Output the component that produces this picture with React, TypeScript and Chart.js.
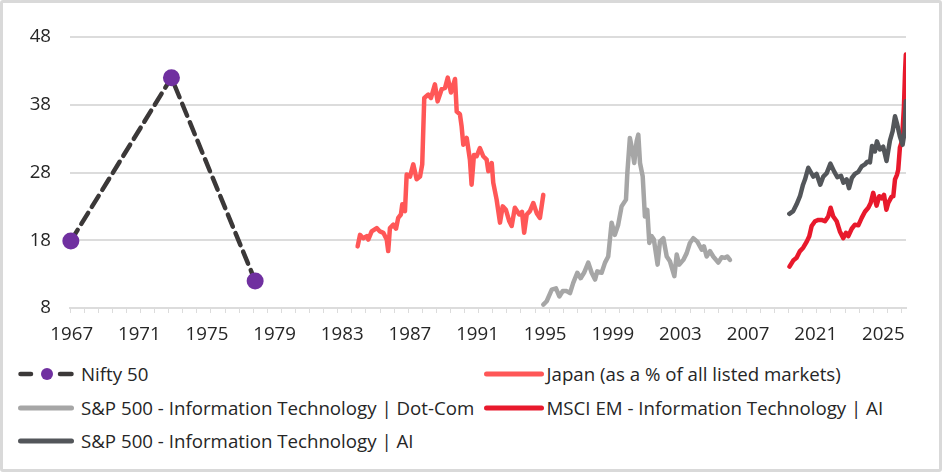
import React, { useEffect, useRef } from 'react';
import { Chart, registerables } from 'chart.js';

Chart.register(...registerables);

const FONT = '"Open Sans", sans-serif';
const FONT_SIZE = 18.7;
const TEXT_COLOR = '#262626';
const GRID_COLOR = '#dcdcdc';

// The AI-era data (2019+) sits on a compressed axis: real year minus this gap.
const GAP_YEARS = 10;

const xTickLabels = ['1967', '1971', '1975', '1979', '1983', '1987', '1991', '1995', '1999', '2003', '2007', '2021', '2025'];
const yTickValues = [8, 18, 28, 38, 48];

const niftyYears = [1966.95, 1972.9, 1977.85];
const niftyValues = [17.9, 42.0, 12.0];

const japanYears = [1983.91, 1984.05, 1984.24, 1984.45, 1984.54, 1984.74, 1985.04, 1985.23, 1985.43, 1985.63, 1985.72, 1985.82, 1986.02, 1986.18, 1986.31, 1986.47, 1986.55, 1986.71, 1986.81, 1987.01, 1987.2, 1987.4, 1987.6, 1987.73, 1987.85, 1988.09, 1988.25, 1988.48, 1988.64, 1988.88, 1989.08, 1989.24, 1989.43, 1989.67, 1989.77, 1989.96, 1990.06, 1990.16, 1990.36, 1990.55, 1990.65, 1990.79, 1990.95, 1991.14, 1991.34, 1991.54, 1991.64, 1991.84, 1991.93, 1992.13, 1992.33, 1992.49, 1992.68, 1992.88, 1993.02, 1993.21, 1993.47, 1993.63, 1993.76, 1993.91, 1994.1, 1994.3, 1994.5, 1994.69, 1994.89];
const japanValues = [17.1, 18.8, 18.3, 18.6, 18.1, 19.3, 19.8, 19.3, 19.1, 18.1, 16.4, 19.8, 20.3, 19.7, 21.3, 21.8, 23.3, 22.3, 27.7, 27.4, 29.2, 27.0, 27.4, 29.2, 39.0, 39.5, 39.0, 41.0, 38.5, 40.3, 40.5, 42.0, 39.8, 41.8, 37.0, 36.6, 34.8, 32.1, 33.1, 29.9, 26.2, 30.6, 30.4, 31.6, 30.4, 29.9, 28.2, 29.4, 26.5, 24.0, 20.6, 23.0, 22.5, 20.8, 20.1, 22.8, 21.8, 22.2, 19.1, 21.8, 22.3, 23.5, 22.0, 21.3, 24.7];

const dotcomYears = [1994.89, 1995.09, 1995.39, 1995.64, 1995.84, 1996.04, 1996.27, 1996.47, 1996.66, 1996.9, 1997.1, 1997.3, 1997.55, 1997.75, 1997.95, 1998.08, 1998.34, 1998.54, 1998.73, 1998.93, 1999.12, 1999.32, 1999.52, 1999.78, 1999.86, 2000.01, 2000.15, 2000.27, 2000.41, 2000.51, 2000.61, 2000.77, 2000.9, 2001.04, 2001.16, 2001.3, 2001.43, 2001.65, 2001.79, 2001.99, 2002.19, 2002.38, 2002.64, 2002.78, 2002.93, 2003.17, 2003.37, 2003.56, 2003.76, 2004.0, 2004.26, 2004.39, 2004.55, 2004.75, 2004.94, 2005.24, 2005.44, 2005.63, 2005.77, 2005.93];
const dotcomValues = [8.5, 9.0, 10.7, 10.9, 9.7, 10.5, 10.5, 10.2, 11.7, 13.2, 12.4, 13.2, 14.7, 13.2, 12.2, 13.4, 13.2, 14.7, 15.6, 20.6, 18.8, 20.3, 23.0, 24.0, 27.9, 33.1, 31.4, 29.4, 32.6, 33.6, 29.4, 27.4, 21.5, 22.5, 17.6, 18.6, 18.1, 14.4, 17.8, 18.3, 15.6, 14.9, 12.7, 15.9, 14.4, 15.1, 16.1, 17.6, 18.3, 17.8, 16.6, 17.1, 15.6, 16.4, 15.6, 14.7, 15.5, 15.4, 15.6, 15.1];

const spAiYears = [2019.44, 2019.67, 2019.87, 2020.07, 2020.25, 2020.37, 2020.56, 2020.72, 2020.86, 2021.05, 2021.27, 2021.45, 2021.65, 2021.87, 2022.08, 2022.28, 2022.5, 2022.64, 2022.83, 2022.97, 2023.14, 2023.32, 2023.52, 2023.72, 2023.91, 2024.06, 2024.21, 2024.33, 2024.5, 2024.62, 2024.8, 2024.99, 2025.19, 2025.39, 2025.55, 2025.69, 2025.82, 2025.98, 2026.14, 2026.25, 2026.33];
const spAiValues = [21.9, 22.3, 23.3, 24.5, 26.2, 27.0, 28.7, 28.0, 27.4, 27.8, 26.2, 27.4, 27.9, 29.3, 28.2, 27.3, 27.5, 26.5, 27.0, 25.7, 27.2, 27.8, 28.1, 28.9, 29.2, 29.6, 29.5, 31.9, 31.1, 32.6, 31.4, 31.8, 29.7, 32.7, 34.1, 36.3, 35.1, 33.3, 32.1, 33.9, 38.5];

const msciAiYears = [2019.45, 2019.67, 2019.87, 2020.07, 2020.26, 2020.47, 2020.62, 2020.76, 2020.96, 2021.16, 2021.35, 2021.55, 2021.74, 2021.88, 2022.04, 2022.24, 2022.43, 2022.63, 2022.79, 2022.93, 2023.13, 2023.32, 2023.52, 2023.72, 2023.91, 2024.11, 2024.25, 2024.4, 2024.6, 2024.76, 2024.9, 2025.04, 2025.18, 2025.29, 2025.48, 2025.59, 2025.69, 2025.81, 2025.88, 2025.98, 2026.1, 2026.22, 2026.28, 2026.33];
const msciAiValues = [14.1, 15.0, 15.4, 16.4, 16.9, 17.8, 18.6, 20.1, 20.8, 21.0, 21.0, 20.8, 21.5, 22.8, 21.5, 20.8, 19.3, 18.3, 19.1, 18.6, 19.7, 20.3, 20.2, 21.3, 22.2, 22.8, 23.5, 25.0, 23.1, 24.5, 24.2, 24.7, 22.5, 23.5, 24.4, 24.5, 27.0, 27.7, 28.4, 31.7, 32.6, 37.8, 42.5, 45.4];

const NIFTY_LINE = '#3b3838';
const NIFTY_POINT = '#7030a0';
const JAPAN_COLOR = '#ff5757';
const DOTCOM_COLOR = '#a6a6a6';
const SPAI_COLOR = '#53565a';
const MSCI_COLOR = '#e8192c';

const X_MIN = 1966.9;
const X_MAX = 2016.34;
const MINOR_STEP = 10 / 12;
const LINE_W = 4.5;

const toAxis = (year: number) => (year > 2010 ? year - GAP_YEARS : year);
const labelPositions = xTickLabels.map((l) => toAxis(Number(l)));
const minorPositions: number[] = [];
for (let v = X_MIN; v <= X_MAX + 1e-6; v += MINOR_STEP) minorPositions.push(v);

const isLabelPos = (v: number) => labelPositions.some((p) => Math.abs(p - v) < 1e-6);

const pts = (xs: number[], ys: number[]) => xs.map((x, i) => ({ x: toAxis(x), y: ys[i] }));

type LegendItem = { label: string; color: string; nifty?: boolean };
const legendLeft: LegendItem[] = [
  { label: 'Nifty 50', color: NIFTY_LINE, nifty: true },
  { label: 'S&P 500 - Information Technology | Dot-Com', color: DOTCOM_COLOR },
  { label: 'S&P 500 - Information Technology | AI', color: SPAI_COLOR },
];
const legendRight: LegendItem[] = [
  { label: 'Japan (as a % of all listed markets)', color: JAPAN_COLOR },
  { label: 'MSCI EM - Information Technology | AI', color: MSCI_COLOR },
];

const CANVAS_W = 942;
const CANVAS_H = 350;

function LegendEntry({ item, left, top, sampleW, gap }: { item: LegendItem; left: number; top: number; sampleW: number; gap: number }) {
  return (
    <div style={{ position: 'absolute', left, top: top - 13, height: 26, display: 'flex', alignItems: 'center', whiteSpace: 'nowrap' }}>
      <svg width={sampleW} height={26} style={{ display: 'block' }}>
        {item.nifty ? (
          <g>
            <line x1={2.5} y1={13} x2={13} y2={13} stroke={NIFTY_LINE} strokeWidth={4.5} strokeLinecap="round" />
            <circle cx={29} cy={13} r={6} fill={NIFTY_POINT} />
            <line x1={42} y1={13} x2={sampleW - 2.5} y2={13} stroke={NIFTY_LINE} strokeWidth={4.5} strokeLinecap="round" />
          </g>
        ) : (
          <line x1={2.5} y1={13} x2={sampleW - 2.5} y2={13} stroke={item.color} strokeWidth={5} strokeLinecap="round" />
        )}
      </svg>
      <span style={{ marginLeft: gap, fontFamily: FONT, fontSize: FONT_SIZE, color: TEXT_COLOR, lineHeight: '26px' }}>{item.label}</span>
    </div>
  );
}

export default function App() {
  const canvasRef = useRef<HTMLCanvasElement | null>(null);

  useEffect(() => {
    const canvas = canvasRef.current;
    if (!canvas) return;
    const chart = new Chart(canvas, {
      type: 'line',
      data: {
        datasets: [
          {
            label: 'Nifty 50',
            data: pts(niftyYears, niftyValues),
            borderColor: NIFTY_LINE,
            borderWidth: 4.5,
            borderDash: [13, 7],
            pointRadius: 8.5,
            pointBackgroundColor: NIFTY_POINT,
            pointBorderWidth: 0,
            clip: false as any,
          },
          {
            label: 'S&P 500 - Information Technology | AI',
            data: pts(spAiYears, spAiValues),
            borderColor: SPAI_COLOR,
            borderWidth: LINE_W,
            pointRadius: 0,
          },
          {
            label: 'MSCI EM - Information Technology | AI',
            data: pts(msciAiYears, msciAiValues),
            borderColor: MSCI_COLOR,
            borderWidth: LINE_W,
            pointRadius: 0,
          },
          {
            label: 'Japan (as a % of all listed markets)',
            data: pts(japanYears, japanValues),
            borderColor: JAPAN_COLOR,
            borderWidth: LINE_W,
            pointRadius: 0,
          },
          {
            label: 'S&P 500 - Information Technology | Dot-Com',
            data: pts(dotcomYears, dotcomValues),
            borderColor: DOTCOM_COLOR,
            borderWidth: LINE_W,
            pointRadius: 0,
          },
        ],
      },
      options: {
        animation: false,
        responsive: false,
        maintainAspectRatio: false,
        devicePixelRatio: 1,
        layout: { padding: { top: 37, right: 36, left: 0, bottom: 0 } },
        elements: {
          line: { tension: 0, borderJoinStyle: 'round', borderCapStyle: 'round' },
          point: { radius: 0, hoverRadius: 0 },
        },
        plugins: { legend: { display: false }, tooltip: { enabled: false } },
        scales: {
          x: {
            type: 'linear',
            min: X_MIN,
            max: X_MAX,
            afterBuildTicks: (s: any) => {
              const vals = [...labelPositions, ...minorPositions].sort((a, b) => a - b);
              s.ticks = vals.map((v) => ({ value: v }));
            },
            afterFit: (s: any) => {
              s.height = CANVAS_H - 308;
            },
            border: { display: true, color: GRID_COLOR, width: 2 },
            grid: {
              drawOnChartArea: false,
              drawTicks: true,
              tickLength: 5,
              lineWidth: 1,
              color: (ctx: any) => (ctx.tick && isLabelPos(ctx.tick.value) ? 'rgba(0,0,0,0)' : GRID_COLOR),
            },
            ticks: {
              autoSkip: false,
              maxRotation: 0,
              minRotation: 0,
              padding: 10,
              color: TEXT_COLOR,
              font: { family: FONT, size: FONT_SIZE },
              callback: (v: any) => {
                const idx = labelPositions.findIndex((p) => Math.abs(p - Number(v)) < 1e-6);
                return idx >= 0 ? xTickLabels[idx] : '';
              },
            },
          },
          y: {
            min: 8,
            max: 48,
            afterBuildTicks: (s: any) => {
              s.ticks = yTickValues.map((v) => ({ value: v }));
            },
            afterFit: (s: any) => {
              s.width = 70;
            },
            border: { display: false },
            grid: { color: GRID_COLOR, lineWidth: 2, drawTicks: false },
            ticks: {
              padding: 19,
              color: TEXT_COLOR,
              font: { family: FONT, size: FONT_SIZE },
            },
          },
        },
      } as any,
    });
    return () => chart.destroy();
  }, []);

  return (
    <div style={{ position: 'fixed', left: 0, top: 0, width: 942, height: 472, background: '#fff', overflow: 'hidden' }}>
      <canvas ref={canvasRef} width={CANVAS_W} height={CANVAS_H} style={{ position: 'absolute', left: 0, top: 0, width: CANVAS_W, height: CANVAS_H }} />
      {legendLeft.map((it, i) => (
        <LegendEntry key={it.label} item={it} left={18} top={374.3 + i * 33.4} sampleW={56} gap={7} />
      ))}
      {legendRight.map((it, i) => (
        <LegendEntry key={it.label} item={it} left={483.5} top={374.3 + i * 33.4} sampleW={60} gap={3} />
      ))}
      <div style={{ position: 'absolute', left: 0, top: 0, width: 942, height: 472, boxSizing: 'border-box', border: '3px solid #d9d9d9', borderRadius: 3, pointerEvents: 'none' }} />
    </div>
  );
}
